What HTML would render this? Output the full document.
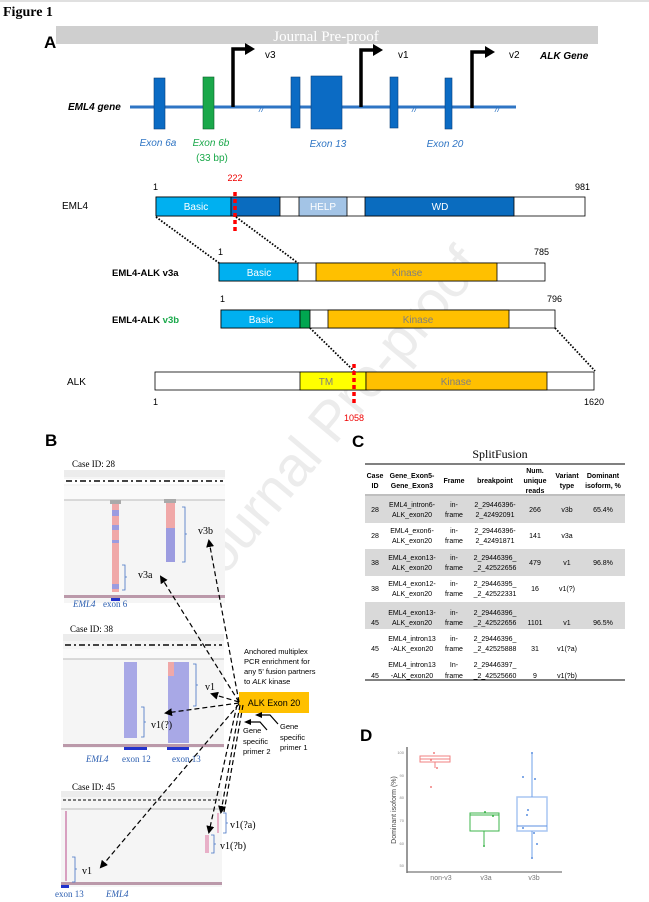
<!DOCTYPE html>
<html><head><meta charset="utf-8"><style>
html,body{margin:0;padding:0;background:#fff;}
svg{display:block;}
text{font-family:"Liberation Sans",sans-serif;}
.s{font-family:"Liberation Serif",serif;}
.t{font-size:7px;fill:#000;text-anchor:middle;}
</style></head><body>
<svg width="649" height="902" viewBox="0 0 649 902" xmlns="http://www.w3.org/2000/svg">
<rect x="0" y="0" width="649" height="2" fill="#e0e0e0"/>
<text x="3" y="16" class="s" font-size="14" font-weight="bold">Figure 1</text>
<rect x="56" y="26" width="542" height="18" fill="#cfcfcf"/>
<text x="326" y="41" class="s" font-size="15" fill="#fff" text-anchor="middle">Journal Pre-proof</text>
<text x="44" y="48" font-size="17" font-weight="bold">A</text>

<!-- watermark -->
<text x="330" y="440" font-size="56" fill="#ececec" text-anchor="middle" transform="rotate(-50 330 420)">Journal Pre-proof</text>

<!-- gene -->
<line x1="130" y1="107" x2="516" y2="107" stroke="#2f75c4" stroke-width="3"/>
<text x="68" y="110" font-size="10" font-weight="bold" font-style="italic">EML4 gene</text>
<g fill="#0b6bc4" stroke="#0a3f7a" stroke-width="0.6">
<rect x="154" y="78" width="11" height="51"/>
<rect x="291" y="77" width="9" height="51"/>
<rect x="311" y="76" width="31" height="53"/>
<rect x="390" y="77" width="8" height="51"/>
<rect x="445" y="78" width="7" height="51"/>
</g>
<rect x="203" y="77" width="11" height="52" fill="#1aa84a" stroke="#0a5f2a" stroke-width="0.6"/>
<g stroke="#000" stroke-width="3.5" fill="none">
<polyline points="233,107 233,49 246,49"/>
<polyline points="361,107 361,50 374,50"/>
<polyline points="472,108 472,52 486,52"/>
</g>
<g fill="#000">
<polygon points="245,43 255,49 245,55"/>
<polygon points="373,44 383,50 373,56"/>
<polygon points="485,46 495,52 485,58"/>
</g>
<text x="265" y="58" font-size="10">v3</text>
<text x="398" y="58" font-size="10">v1</text>
<text x="509" y="58" font-size="10">v2</text>
<text x="540" y="59" font-size="10" font-weight="bold" font-style="italic">ALK Gene</text>
<g font-size="9" fill="#2f75c4" font-style="italic"><text x="259" y="112">//</text><text x="412" y="112">//</text><text x="495" y="112">//</text></g>
<g font-size="10" font-style="italic" fill="#2f75c4" text-anchor="middle">
<text x="158" y="146">Exon 6a</text><text x="328" y="147">Exon 13</text><text x="445" y="147">Exon 20</text></g>
<text x="211" y="146" font-size="10" font-style="italic" fill="#1aa84a" text-anchor="middle">Exon 6b</text>
<text x="212" y="161" font-size="10" fill="#1aa84a" text-anchor="middle">(33 bp)</text>

<!-- proteins -->
<g font-size="9">
<text x="153" y="190">1</text><text x="235" y="181" fill="#e00" text-anchor="middle">222</text><text x="575" y="190">981</text>
<text x="62" y="209" font-size="10">EML4</text>
</g>
<g stroke="#000" stroke-width="0.8">
<rect x="156" y="197" width="429" height="19" fill="#fff"/>
<rect x="156" y="197" width="75" height="19" fill="#00b0f0"/>
<rect x="231" y="197" width="49" height="19" fill="#0a6cbf"/>
<rect x="299" y="197" width="48" height="19" fill="#a3c4e6"/>
<rect x="365" y="197" width="149" height="19" fill="#0a6cbf"/>
</g>
<g font-size="10" fill="#fff" text-anchor="middle"><text x="196" y="210">Basic</text><text x="323" y="210">HELP</text><text x="440" y="210">WD</text></g>
<line x1="235" y1="192" x2="235" y2="231" stroke="#f00" stroke-width="3.5" stroke-dasharray="4,3"/>
<g stroke="#000" stroke-width="1.8" stroke-dasharray="1.6,1.6">
<line x1="156" y1="217" x2="219" y2="263"/><line x1="236" y1="217" x2="298" y2="263"/>
<line x1="310" y1="328" x2="354" y2="371"/><line x1="555" y1="328" x2="595" y2="371"/>
</g>
<text x="218" y="255" font-size="9">1</text><text x="534" y="255" font-size="9">785</text>
<text x="112" y="276" font-size="9.5" font-weight="bold">EML4-ALK v3a</text>
<g stroke="#000" stroke-width="0.8">
<rect x="219" y="263" width="326" height="18" fill="#fff"/>
<rect x="219" y="263" width="79" height="18" fill="#00b0f0"/>
<rect x="316" y="263" width="181" height="18" fill="#ffc000"/>
</g>
<text x="259" y="276" font-size="10" fill="#fff" text-anchor="middle">Basic</text>
<text x="407" y="276" font-size="10" fill="#7f7f7f" text-anchor="middle">Kinase</text>
<text x="220" y="302" font-size="9">1</text><text x="547" y="302" font-size="9">796</text>
<text x="112" y="323" font-size="9.5" font-weight="bold">EML4-ALK <tspan fill="#1aa84a">v3b</tspan></text>
<g stroke="#000" stroke-width="0.8">
<rect x="221" y="310" width="334" height="18" fill="#fff"/>
<rect x="221" y="310" width="79" height="18" fill="#00b0f0"/>
<rect x="300" y="310" width="10" height="18" fill="#00a650"/>
<rect x="328" y="310" width="181" height="18" fill="#ffc000"/>
</g>
<text x="261" y="323" font-size="10" fill="#fff" text-anchor="middle">Basic</text>
<text x="418" y="323" font-size="10" fill="#7f7f7f" text-anchor="middle">Kinase</text>
<text x="67" y="385" font-size="10">ALK</text>
<g stroke="#000" stroke-width="0.8">
<rect x="155" y="372" width="439" height="18" fill="#fff"/>
<rect x="300" y="372" width="66" height="18" fill="#ffff00"/>
<rect x="366" y="372" width="181" height="18" fill="#ffc000"/>
</g>
<text x="326" y="385" font-size="10" fill="#7f7f7f" text-anchor="middle">TM</text>
<text x="456" y="385" font-size="10" fill="#7f7f7f" text-anchor="middle">Kinase</text>
<line x1="354" y1="364" x2="354" y2="404" stroke="#f00" stroke-width="3.5" stroke-dasharray="4,3"/>
<text x="153" y="405" font-size="9">1</text><text x="584" y="405" font-size="9">1620</text>
<text x="354" y="421" font-size="9" fill="#e00" text-anchor="middle">1058</text>

<!-- B -->
<text x="45" y="446" font-size="17" font-weight="bold">B</text>
<g class="s" font-size="9"><text x="72" y="467" class="s">Case ID: 28</text><text x="70" y="632" class="s">Case ID: 38</text><text x="72" y="790" class="s">Case ID: 45</text></g>
<g>
<rect x="64" y="470" width="161" height="133" fill="#f5f5f5"/>
<rect x="64" y="470" width="161" height="7" fill="#ececec"/>
<rect x="64" y="479" width="161" height="5" fill="#fff"/>
<line x1="66" y1="481" x2="223" y2="481" stroke="#444" stroke-width="2" stroke-dasharray="6,3,2,3"/>
<rect x="64" y="486" width="161" height="14" fill="#fafafa"/>
<line x1="64" y1="500" x2="225" y2="500" stroke="#bbb"/>
<rect x="112" y="503" width="7" height="89" fill="#f0a8a8"/>
<rect x="112" y="510" width="7" height="6" fill="#9c9ce0"/><rect x="112" y="525" width="7" height="5" fill="#9c9ce0"/><rect x="112" y="540" width="7" height="3" fill="#9c9ce0"/><rect x="112" y="584" width="7" height="5" fill="#9c9ce0"/>
<rect x="110" y="500" width="11" height="4" fill="#aaa"/>
<rect x="166" y="503" width="9" height="25" fill="#f0a8a8"/><rect x="166" y="528" width="9" height="34" fill="#9c9ce0"/>
<rect x="164" y="499" width="12" height="4" fill="#aaa"/>
<rect x="64" y="595" width="161" height="3" fill="#b9a"/>
<rect x="111" y="598" width="9" height="3" fill="#2233cc"/>
</g>
<path d="M182,507 h3 v27 h2 h-2 v28 h-3" fill="none" stroke="#4472c4" stroke-width="0.8"/>
<path d="M122,565 h3 v12 h2 h-2 v13 h-3" fill="none" stroke="#4472c4" stroke-width="0.8"/>
<text x="198" y="534" class="s" font-size="10">v3b</text>
<text x="138" y="578" class="s" font-size="10">v3a</text>
<text x="73" y="607" class="s" font-size="9" font-style="italic" fill="#2a5db0">EML4</text>
<text x="103" y="607" class="s" font-size="9" fill="#2a5db0">exon 6</text>
<g>
<rect x="63" y="634" width="161" height="114" fill="#f5f5f5"/>
<rect x="63" y="634" width="161" height="7" fill="#ececec"/>
<line x1="65" y1="645" x2="222" y2="645" stroke="#444" stroke-width="2" stroke-dasharray="6,3,2,3"/>
<rect x="63" y="649" width="161" height="10" fill="#fafafa"/>
<line x1="63" y1="659" x2="224" y2="659" stroke="#bbb"/>
<rect x="124" y="662" width="13" height="76" fill="#a8a8e6"/>
<rect x="168" y="662" width="21" height="81" fill="#a8a8e6"/>
<rect x="168" y="662" width="6" height="14" fill="#f0a8a8"/>
<rect x="63" y="744" width="161" height="3" fill="#b9a"/>
<rect x="124" y="747" width="23" height="3" fill="#2233cc"/><rect x="167" y="747" width="22" height="3" fill="#2233cc"/>
</g>
<path d="M193,664 h3 v21 h2 h-2 v21 h-3" fill="none" stroke="#4472c4" stroke-width="0.8"/>
<path d="M141,707 h3 v15 h2 h-2 v15 h-3" fill="none" stroke="#4472c4" stroke-width="0.8"/>
<text x="205" y="690" class="s" font-size="10">v1</text>
<text x="151" y="728" class="s" font-size="10">v1(?)</text>
<text x="86" y="762" class="s" font-size="9" font-style="italic" fill="#2a5db0">EML4</text>
<text x="122" y="762" class="s" font-size="9" fill="#2a5db0">exon 12</text>
<text x="172" y="762" class="s" font-size="9" fill="#2a5db0">exon 13</text>
<g>
<rect x="61" y="791" width="161" height="96" fill="#f5f5f5"/>
<rect x="61" y="791" width="161" height="6" fill="#ececec"/>
<line x1="63" y1="800" x2="220" y2="800" stroke="#555" stroke-width="1.5" stroke-dasharray="3,2"/>
<line x1="61" y1="809" x2="222" y2="809" stroke="#bbb"/>
<rect x="65" y="811" width="2" height="70" fill="#d8a0c0"/>
<rect x="205" y="835" width="4" height="18" fill="#e8b0c8"/>
<rect x="217" y="813" width="2" height="20" fill="#e8b0c8"/>
<rect x="61" y="882" width="161" height="3" fill="#b9a"/>
<rect x="61" y="885" width="8" height="3" fill="#2233cc"/>
</g>
<path d="M223,813 h3 v10 h2 h-2 v10 h-3" fill="none" stroke="#4472c4" stroke-width="0.8"/>
<path d="M211,835 h3 v9 h2 h-2 v9 h-3" fill="none" stroke="#4472c4" stroke-width="0.8"/>
<path d="M72,857 h3 v12 h2 h-2 v13 h-3" fill="none" stroke="#4472c4" stroke-width="0.8"/>
<text x="230" y="828" class="s" font-size="10">v1(?a)</text>
<text x="220" y="849" class="s" font-size="10">v1(?b)</text>
<text x="82" y="874" class="s" font-size="10">v1</text>
<text x="55" y="897" class="s" font-size="9" fill="#2a5db0">exon 13</text>
<text x="106" y="897" class="s" font-size="9" font-style="italic" fill="#2a5db0">EML4</text>
<rect x="239" y="692" width="70" height="21" fill="#ffc000"/>
<text x="274" y="706" font-size="9" text-anchor="middle">ALK Exon 20</text>
<g font-size="7.5"><text x="244" y="654">Anchored multiplex</text><text x="244" y="664">PCR enrichment for</text><text x="244" y="674">any 5' fusion partners</text><text x="244" y="684">to <tspan font-style="italic">ALK</tspan> kinase</text>
<text x="243" y="733">Gene</text><text x="243" y="744">specific</text><text x="243" y="754">primer 2</text>
<text x="280" y="729">Gene</text><text x="280" y="740">specific</text><text x="280" y="750">primer 1</text></g>
<defs><marker id="ah" markerWidth="8" markerHeight="8" refX="6" refY="4" orient="auto" markerUnits="userSpaceOnUse"><path d="M0,0 L8,4 L0,8 z" fill="#000"/></marker></defs>
<g stroke="#000" stroke-width="1.2" stroke-dasharray="5,3" fill="none" marker-end="url(#ah)">
<line x1="239" y1="702" x2="209" y2="541"/>
<line x1="239" y1="702" x2="161" y2="577"/>
<line x1="239" y1="702" x2="212" y2="694"/>
<line x1="239" y1="703" x2="166" y2="713"/>
<line x1="239" y1="704" x2="101" y2="867"/>
<line x1="240" y1="705" x2="221" y2="812"/>
<line x1="237" y1="705" x2="209" y2="832"/>
</g>
<line x1="243" y1="705" x2="224" y2="812" stroke="#000" stroke-width="1.2" stroke-dasharray="5,3"/>
<g stroke="#000" stroke-width="1.2" fill="none">
<polyline points="278,724 270,715 262,715"/>
<polyline points="267,730 260,722 250,722"/>
</g>
<polygon points="255,712 262,715 255,718" fill="#000" transform="rotate(180 258.5 715)"/>
<polygon points="244,719 251,722 244,725" fill="#000" transform="rotate(180 247.5 722)"/>

<!-- C -->
<text x="352" y="447" font-size="17" font-weight="bold">C</text>
<text x="500" y="458" class="s" font-size="12" text-anchor="middle">SplitFusion</text>
<line x1="365" y1="464" x2="625" y2="464" stroke="#000" stroke-width="1"/>
<line x1="365" y1="495" x2="625" y2="495" stroke="#000" stroke-width="0.6"/>
<rect x="365" y="496" width="260" height="27" fill="#d9d9d9"/>
<rect x="365" y="549" width="260" height="27" fill="#d9d9d9"/>
<rect x="365" y="602" width="260" height="27" fill="#d9d9d9"/>
<line x1="365" y1="680" x2="625" y2="680" stroke="#000" stroke-width="1"/>
<g class="t" font-weight="bold">
<text x="375" y="478">Case</text><text x="375" y="488">ID</text>
<text x="412" y="478">Gene_Exon5-</text><text x="412" y="488">Gene_Exon3</text>
<text x="454" y="483">Frame</text><text x="495" y="483">breakpoint</text>
<text x="535" y="473">Num.</text><text x="535" y="483">unique</text><text x="535" y="493">reads</text>
<text x="567" y="478">Variant</text><text x="567" y="488">type</text>
<text x="603" y="478">Dominant</text><text x="603" y="488">isoform, %</text>
</g>
<g class="t">
<text x="375" y="512">28</text><text x="412" y="507">EML4_intron6-</text><text x="412" y="517">ALK_exon20</text><text x="454" y="507">in-</text><text x="454" y="517">frame</text><text x="495" y="507">2_29446396-</text><text x="495" y="517">2_42492091</text><text x="535" y="512">266</text><text x="567" y="512">v3b</text><text x="603" y="512">65.4%</text>
<text x="375" y="538">28</text><text x="412" y="533">EML4_exon6-</text><text x="412" y="543">ALK_exon20</text><text x="454" y="533">in-</text><text x="454" y="543">frame</text><text x="495" y="533">2_29446396-</text><text x="495" y="543">2_42491871</text><text x="535" y="538">141</text><text x="567" y="538">v3a</text>
<text x="375" y="565">38</text><text x="412" y="560">EML4_exon13-</text><text x="412" y="570">ALK_exon20</text><text x="454" y="560">in-</text><text x="454" y="570">frame</text><text x="495" y="560">2_29446396_</text><text x="495" y="570">_2_42522656</text><text x="535" y="565">479</text><text x="567" y="565">v1</text><text x="603" y="565">96.8%</text>
<text x="375" y="591">38</text><text x="412" y="586">EML4_exon12-</text><text x="412" y="596">ALK_exon20</text><text x="454" y="586">in-</text><text x="454" y="596">frame</text><text x="495" y="586">2_29446395_</text><text x="495" y="596">_2_42522331</text><text x="535" y="591">16</text><text x="567" y="591">v1(?)</text>
<text x="375" y="625">45</text><text x="412" y="615">EML4_exon13-</text><text x="412" y="625">ALK_exon20</text><text x="454" y="615">in-</text><text x="454" y="625">frame</text><text x="495" y="615">2_29446396_</text><text x="495" y="625">_2_42522656</text><text x="535" y="625">1101</text><text x="567" y="625">v1</text><text x="603" y="625">96.5%</text>
<text x="375" y="651">45</text><text x="412" y="641">EML4_intron13</text><text x="412" y="651">-ALK_exon20</text><text x="454" y="641">in-</text><text x="454" y="651">frame</text><text x="495" y="641">2_29446396_</text><text x="495" y="651">_2_42525888</text><text x="535" y="651">31</text><text x="567" y="651">v1(?a)</text>
<text x="375" y="678">45</text><text x="412" y="667">EML4_intron13</text><text x="412" y="678">-ALK_exon20</text><text x="454" y="667">In-</text><text x="454" y="678">frame</text><text x="495" y="667">2_29446397_</text><text x="495" y="678">_2_42525660</text><text x="535" y="678">9</text><text x="567" y="678">v1(?b)</text>
</g>

<!-- D -->
<text x="360" y="741" font-size="17" font-weight="bold">D</text>
<line x1="407" y1="747" x2="407" y2="873" stroke="#333" stroke-width="1"/>
<line x1="407" y1="872" x2="562" y2="872" stroke="#777" stroke-width="1.2"/>
<g font-size="4" fill="#888" text-anchor="end">
<text x="404" y="754">100</text><text x="404" y="777">90</text><text x="404" y="799">80</text><text x="404" y="822">70</text><text x="404" y="845">60</text><text x="404" y="867">50</text></g>
<text x="396" y="810" font-size="7" fill="#444" text-anchor="middle" transform="rotate(-90 396 810)">Dominant isoform (%)</text>
<g font-size="7" fill="#777" text-anchor="middle"><text x="441" y="880">non-v3</text><text x="486" y="880">v3a</text><text x="534" y="880">v3b</text></g>
<rect x="420" y="756" width="30" height="6" fill="none" stroke="#f08080" stroke-width="1"/>
<line x1="420" y1="759" x2="450" y2="759" stroke="#f08080"/>
<line x1="435" y1="762" x2="435" y2="768" stroke="#f08080"/>
<g fill="#f08080"><circle cx="434" cy="753" r="1"/><circle cx="431" cy="760" r="1"/><circle cx="437" cy="768" r="1"/><circle cx="431" cy="787" r="1"/></g>
<rect x="470" y="813" width="29" height="18" fill="none" stroke="#3cb44b" stroke-width="1"/>
<line x1="470" y1="815" x2="499" y2="815" stroke="#3cb44b"/>
<line x1="484" y1="831" x2="484" y2="846" stroke="#3cb44b"/>
<g fill="#3cb44b"><circle cx="484" cy="846" r="1"/><circle cx="485" cy="812" r="1"/><circle cx="493" cy="816" r="1"/></g>
<rect x="517" y="797" width="30" height="34" fill="none" stroke="#a9c6f2" stroke-width="1.5"/>
<line x1="517" y1="826" x2="547" y2="826" stroke="#5b8fe0"/>
<line x1="532" y1="797" x2="532" y2="753" stroke="#6fa0ea"/>
<line x1="532" y1="831" x2="532" y2="858" stroke="#6fa0ea"/>
<g fill="#5b8fe0"><circle cx="532" cy="753" r="1"/><circle cx="523" cy="777" r="1"/><circle cx="535" cy="779" r="1"/><circle cx="528" cy="810" r="1"/><circle cx="527" cy="815" r="1"/><circle cx="523" cy="828" r="1"/><circle cx="534" cy="833" r="1"/><circle cx="537" cy="844" r="1"/><circle cx="532" cy="858" r="1"/></g>
</svg>
</body></html>
